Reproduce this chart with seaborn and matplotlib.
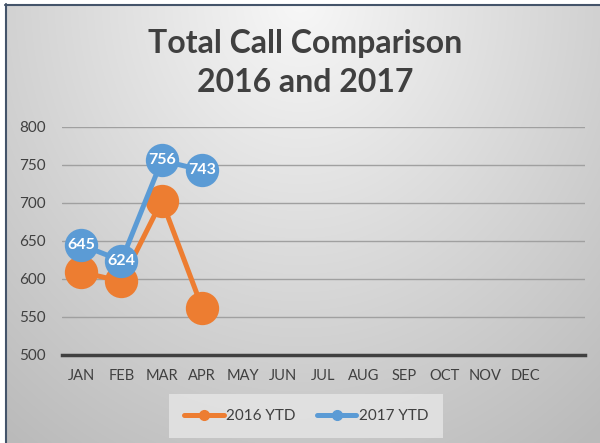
"""
line chart comparing total calls, 2016 vs 2017 ytd
"""

import numpy as np
import pandas as pd
import matplotlib
matplotlib.use('Agg')
import matplotlib.pyplot as plt
import seaborn as sns
from matplotlib.lines import Line2D

# data
months = ['JAN', 'FEB', 'MAR', 'APR', 'MAY', 'JUN',
          'JUL', 'AUG', 'SEP', 'OCT', 'NOV', 'DEC']
calls_2016 = [609, 597, 703, 562]
calls_2017 = [645, 624, 756, 743]
series_names = ['2016 YTD', '2017 YTD']
y_ticks = [500, 550, 600, 650, 700, 750, 800]

ORANGE = '#ED7D31'
BLUE = '#5B9BD5'
TEXT = '#404040'


def make_frame():
    """long table for seaborn"""
    rows = []
    for name, vals in zip(series_names, [calls_2016, calls_2017]):
        for i, v in enumerate(vals):
            rows.append({'pos': i, 'month': months[i], 'calls': v, 'series': name})
    return pd.DataFrame(rows)


def main():
    sns.set_theme(style='white')
    plt.rcParams['font.family'] = ['Lato', 'DejaVu Sans']

    fig = plt.figure(figsize=(6, 4.43), dpi=100)

    # gradient background, light at top middle, gray towards the corners
    bg = fig.add_axes([0, 0, 1, 1], zorder=-10)
    h, w = 443, 600
    yy, xx = np.mgrid[0:h, 0:w]
    dist = np.sqrt(((xx - 300) / 400.0) ** 2 + ((yy - 0) / 460.0) ** 2)
    shade = 0.97 - 0.20 * np.clip(dist, 0, 1.2)
    img = np.dstack([shade, shade, shade])
    img[:4, :, :] = 1.0
    img[:, :5, :] = 1.0
    bg.imshow(img, aspect='auto', extent=[0, w, h, 0])
    bg.plot([5, 600], [4.5, 4.5], color='#44546A', lw=1.5)
    bg.plot([5.5, 5.5], [4, 443], color='#44546A', lw=1.5)
    bg.set_xlim(0, w)
    bg.set_ylim(h, 0)
    bg.axis('off')

    ax = fig.add_axes([62 / 600, 1 - 355 / 443, 523 / 600, 228 / 443])
    ax.set_facecolor('none')

    df = make_frame()
    sns.lineplot(data=df, x='pos', y='calls', hue='series',
                 palette=[ORANGE, BLUE], marker='o', markersize=24,
                 markeredgewidth=0, linewidth=3.6, legend=False, ax=ax,
                 zorder=3)

    # white labels inside the 2017 markers
    for i, v in enumerate(calls_2017):
        ax.text(i, v, str(v), color='white', fontsize=11.5, fontweight='bold',
                ha='center', va='center', zorder=5)

    ax.set_xlim(-0.47, 12.47)
    ax.set_ylim(500, 800)
    ax.set_xticks(range(len(months)))
    ax.set_xticklabels(months)
    ax.set_yticks(y_ticks)
    ax.tick_params(axis='both', length=0, labelsize=11, colors=TEXT)
    ax.tick_params(axis='x', pad=10, labelsize=10.5)
    for lab in ax.get_yticklabels():
        lab.set_horizontalalignment('left')
    ax.yaxis.set_tick_params(pad=31)
    ax.set_xlabel('')
    ax.set_ylabel('')
    ax.grid(axis='y', color='#A0A0A0', linewidth=1)
    ax.grid(axis='x', visible=False)
    for s in ['top', 'right', 'left']:
        ax.spines[s].set_visible(False)
    ax.spines['bottom'].set_color('#404040')
    ax.spines['bottom'].set_linewidth(2.5)
    ax.set_axisbelow(True)

    fig.text(305 / 600, 1 - 63 / 443, 'Total Call Comparison\n2016 and 2017',
             ha='center', va='center', fontsize=23, fontweight='bold',
             color=TEXT, linespacing=1.45)

    handles = [Line2D([0], [0], color=c, lw=3.6, marker='o', markersize=7)
               for c in [ORANGE, BLUE]]
    leg = fig.legend(handles, series_names, loc='center',
                     bbox_to_anchor=(306 / 600, 1 - 416 / 443), ncol=2,
                     frameon=True, fontsize=11, handlelength=2.6,
                     columnspacing=1.4, handletextpad=0.15, borderpad=0.6,
                     borderaxespad=0)
    leg.get_frame().set_facecolor('#E6E6E6')
    leg.get_frame().set_edgecolor('none')
    leg.get_frame().set_alpha(0.8)
    leg.get_frame().set_boxstyle('square', pad=0.4)
    for t in leg.get_texts():
        t.set_color(TEXT)

    fig.savefig('out.png', dpi=100)


if __name__ == '__main__':
    main()
